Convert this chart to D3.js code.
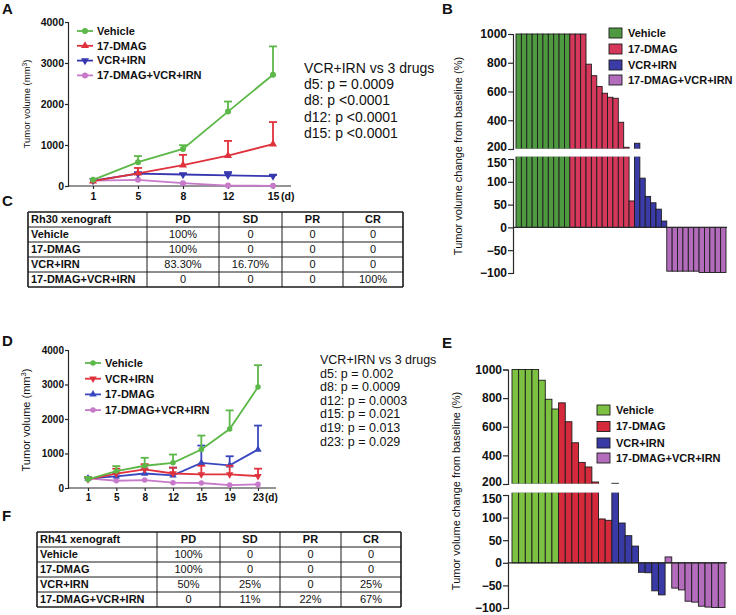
<!DOCTYPE html>
<html><head><meta charset="utf-8">
<script src="https://cdn.jsdelivr.net/npm/d3@7"></script>
<style>body{margin:0;background:#fff}svg{display:block;font-family:"Liberation Sans",Arial,sans-serif}</style>
</head><body><svg id="fig" width="736" height="615"></svg>
<script>
// ---------- DATA ----------
const yTicksLine = [0, 1000, 2000, 3000, 4000];
// Panel A (Rh30)
const daysA = ["1", "5", "8", "12", "15"];
const vehicleA = [150, 580, 905, 1815, 2715];
const vehicleAErr = [160, 730, 995, 2060, 3405];
const dmagA = [120, 310, 510, 740, 1020];
const dmagAErr = [130, 440, 760, 1100, 1560];
const vcrA = [130, 300, 280, 260, 240];
const vcrAErr = [140, 330, 300, 340, 270];
const comboA = [130, 150, 70, 10, 5];
const comboAErr = [140, 160, 80, 15, 10];
const pTextA = ["VCR+IRN vs 3 drugs", "d5: p = 0.0009", "d8: p <0.0001", "d12: p <0.0001", "d15: p <0.0001"];
// Panel D (Rh41)
const daysD = ["1", "5", "8", "12", "15", "19", "23"];
const vehicleD = [250, 490, 645, 730, 1115, 1710, 2925];
const vehicleDErr = [320, 635, 875, 970, 1520, 2250, 3560];
const vcrD = [250, 415, 540, 420, 395, 395, 345];
const vcrDErr = [320, 560, 690, 590, 645, 645, 560];
const dmagD = [280, 335, 420, 365, 730, 655, 1115];
const dmagDErr = [300, 420, 540, 590, 1230, 920, 1810];
const comboD = [280, 210, 230, 155, 145, 85, 105];
const pTextD = ["VCR+IRN vs 3 drugs", "d5: p = 0.002", "d8: p = 0.0009", "d12: p = 0.0003", "d15: p = 0.021", "d19: p = 0.013", "d23: p = 0.029"];
// Panel B waterfall (Rh30)
const wfGroups = ["Vehicle", "17-DMAG", "VCR+IRN", "17-DMAG+VCR+IRN"];
const vehicleB = [1000, 1000, 1000, 1000, 1000, 1000, 1000, 1000, 1000, 1000];
const dmagB = [1000, 1000, 1000, 790, 710, 635, 588, 560, 553, 386, 212, 58];
const vcrB = [240, 108, 68, 54, 40, 14];
const comboB = [-96, -96, -96, -96, -96, -96, -99, -99, -99, -99, -99];
// Panel E waterfall (Rh41)
const vehicleE = [1000, 1000, 1000, 1000, 925, 792, 724];
const dmagE = [767, 635, 488, 351, 319, 214, 97, 94];
const vcrE = [205, 88, 60, 37, -21, -22, -62, -71];
const comboE = [13, -56, -60, -85, -87, -96, -98, -99, -99];
const upTicks = [200, 400, 600, 800, 1000];
const loTicks = [-100, -50, 0, 50, 100, 150];
// Tables
const headerC = ["Rh30 xenograft", "PD", "SD", "PR", "CR"];
const rowsC = [["Vehicle", "100%", "0", "0", "0"], ["17-DMAG", "100%", "0", "0", "0"], ["VCR+IRN", "83.30%", "16.70%", "0", "0"], ["17-DMAG+VCR+IRN", "0", "0", "0", "100%"]];
const headerF = ["Rh41 xenograft", "PD", "SD", "PR", "CR"];
const rowsF = [["Vehicle", "100%", "0", "0", "0"], ["17-DMAG", "100%", "0", "0", "0"], ["VCR+IRN", "50%", "25%", "0", "25%"], ["17-DMAG+VCR+IRN", "0", "11%", "22%", "67%"]];

// ---------- DRAWING ----------
const svg = d3.select("#fig");
const AX = "#2a2a2a";
const fmt = d3.format("d");
function styleAxis(sel, fs) {
  sel.selectAll("path,line").attr("stroke", AX).attr("stroke-width", 1.2);
  sel.selectAll("text").attr("fill", "#111").style("font-size", fs + "px").style("font-weight", "bold").style("font-family", "Liberation Sans, Arial, sans-serif");
}
function marker(g, type, x, y, color, size) {
  const t = (type === "up" || type === "down") ? d3.symbolTriangle : type === "square" ? d3.symbolSquare : d3.symbolCircle;
  g.append("path").attr("d", d3.symbol().type(t).size(size)())
    .attr("transform", `translate(${x},${y})${type === "down" ? " rotate(180)" : ""}`)
    .attr("fill", color);
}
function yLabel(g, x, y, fs, parts) {
  const t = g.append("text").attr("transform", `translate(${x},${y}) rotate(-90)`).attr("text-anchor", "middle")
    .style("font-size", fs + "px").attr("fill", "#111");
  parts.forEach(p => {
    const ts = t.append("tspan").text(p.t);
    if (p.sup) ts.attr("baseline-shift", "super").style("font-size", (fs * 0.7) + "px");
  });
}
function letter(t, x, y) {
  svg.append("text").attr("x", x).attr("y", y).text(t).style("font-size", "15px").style("font-weight", "bold").attr("fill", "#111");
}

function lineChart(o) {
  const g = svg.append("g");
  const x = d3.scalePoint().domain(o.days).range(o.xr);
  const y = d3.scaleLinear().domain([0, 4000]).range(o.yr);
  const ya = g.append("g").attr("transform", `translate(${o.ax},0)`)
    .call(d3.axisLeft(y).tickValues(yTicksLine).tickFormat(fmt).tickSizeOuter(0).tickSize(3).tickPadding(1));
  styleAxis(ya, o.fs);
  const xa = g.append("g").attr("transform", `translate(0,${o.yr[0]})`)
    .call(d3.axisBottom(x).tickSize(3).tickPadding(o.xpad));
  xa.select(".domain").remove();
  styleAxis(xa, o.xfs);
  g.append("line").attr("x1", o.ax).attr("x2", o.xend).attr("y1", o.yr[0]).attr("y2", o.yr[0]).attr("stroke", AX).attr("stroke-width", 1.2);
  g.append("text").attr("x", x(o.days[o.days.length - 1]) + o.dOff).attr("y", o.yr[0] + 3 + o.xpad).attr("dy", "0.71em")
    .text("(d)").style("font-size", o.xfs + "px").style("font-weight", "bold").attr("fill", "#111");
  const line = d3.line().x((d, i) => x(o.days[i])).y(d => y(d));
  o.series.slice().reverse().forEach(s => {
    if (s.err) s.err.forEach((t, i) => {
      if (t > s.values[i] + 15) {
        const cx = x(o.days[i]);
        g.append("line").attr("x1", cx).attr("x2", cx).attr("y1", y(s.values[i])).attr("y2", y(t)).attr("stroke", s.color).attr("stroke-width", 1.8);
        g.append("line").attr("x1", cx - 4).attr("x2", cx + 4).attr("y1", y(t)).attr("y2", y(t)).attr("stroke", s.color).attr("stroke-width", 1.8);
      }
    });
    g.append("path").attr("d", line(s.values)).attr("fill", "none").attr("stroke", s.color).attr("stroke-width", 1.8);
    s.values.forEach((v, i) => marker(g, s.sym, x(o.days[i]), y(v), s.color, o.msize));
  });
  o.series.forEach((s, i) => {
    const ly = o.ly + i * o.lstep;
    g.append("line").attr("x1", o.lx).attr("x2", o.lx + 16).attr("y1", ly).attr("y2", ly).attr("stroke", s.color).attr("stroke-width", 1.8);
    marker(g, s.sym, o.lx + 8, ly, s.color, o.msize);
    g.append("text").attr("x", o.lx + 20).attr("y", ly).attr("dy", "0.35em").text(s.name)
      .style("font-size", o.lfs + "px").style("font-weight", "bold").attr("fill", "#111");
  });
  yLabel(g, o.lblx, o.lbly, o.lblfs, [{ t: "Tumor volume (mm" }, { t: "3", sup: true }, { t: ")" }]);
  o.ptext.forEach((t, i) => {
    g.append("text").attr("x", o.px).attr("y", o.py + i * o.pstep).text(t).style("font-size", o.pfs + "px").attr("fill", "#111");
  });
}

function waterfall(o) {
  const g = svg.append("g");
  const bars = [];
  o.groups.forEach(grp => grp.values.forEach(v => bars.push({ v, c: grp.color })));
  const x = d3.scaleBand().domain(d3.range(bars.length)).range([o.x0, o.x1]).padding(0);
  const yUp = d3.scaleLinear().domain([200, 1000]).range([o.upBot, o.upTop]);
  const yLo = d3.scaleLinear().domain([-100, 150]).range([o.loBot, o.loTop]);
  const breakTop = o.loTop - 3;
  bars.forEach((b, i) => {
    const bx = x(i), bw = x.bandwidth();
    let y1, y2;
    if (b.v >= 0) { y1 = b.v > 150 ? breakTop : yLo(b.v); y2 = yLo(0); }
    else { y1 = yLo(0); y2 = yLo(Math.max(b.v, -100)); }
    g.append("rect").attr("x", bx).attr("y", y1).attr("width", bw).attr("height", y2 - y1)
      .attr("fill", b.c).attr("stroke", "#1c1c1c").attr("stroke-width", 0.9);
    if (b.v > 200) {
      const t = yUp(Math.min(b.v, 1000));
      g.append("rect").attr("x", bx).attr("y", t).attr("width", bw).attr("height", o.upBot - t)
        .attr("fill", b.c).attr("stroke", "#1c1c1c").attr("stroke-width", 0.9);
    }
  });
  g.append("rect").attr("x", o.x0 - 1).attr("y", o.upBot - 0.3).attr("width", o.x1 - o.x0 + 2).attr("height", breakTop - o.upBot + 0.9).attr("fill", "#fff");
  g.append("line").attr("x1", o.ax).attr("x2", o.zx).attr("y1", yLo(0)).attr("y2", yLo(0)).attr("stroke", AX).attr("stroke-width", 1.2);
  const a1 = g.append("g").attr("transform", `translate(${o.ax},0)`).call(d3.axisLeft(yUp).tickValues(upTicks).tickFormat(fmt).tickSizeOuter(0).tickSize(5).tickPadding(1));
  styleAxis(a1, o.fs);
  a1.selectAll(".tick text").filter(d => d === 200).attr("dy", "0.1em");
  const a2 = g.append("g").attr("transform", `translate(${o.ax},0)`).call(d3.axisLeft(yLo).tickValues(loTicks).tickFormat(fmt).tickSizeOuter(0).tickSize(5).tickPadding(1));
  styleAxis(a2, o.fs);
  a2.selectAll(".tick text").filter(d => d === 150).attr("dy", "0.62em");
  o.groups.forEach((grp, i) => {
    const ly = o.ly[i];
    g.append("rect").attr("x", o.lx).attr("y", ly - 5).attr("width", 13).attr("height", 10).attr("fill", grp.color).attr("stroke", "#1c1c1c").attr("stroke-width", 0.9);
    g.append("text").attr("x", o.lx + 19).attr("y", ly).attr("dy", "0.35em").text(grp.name)
      .style("font-size", "11px").style("font-weight", "bold").attr("fill", "#111");
  });
  yLabel(g, o.lblx, o.lbly, o.lblfs, [{ t: "Tumor volume change from baseline (%)" }]);
}

function table(o) {
  const g = svg.append("g");
  const all = [o.header].concat(o.rows);
  const yb = d3.range(all.length + 1).map(i => o.top + i * o.rh);
  all.forEach((row, r) => row.forEach((cell, c) => {
    const bold = r === 0 || c === 0;
    const tx = c === 0 ? o.cols[0] + 3 : (o.cols[c] + o.cols[c + 1]) / 2;
    g.append("text").attr("x", tx).attr("y", (yb[r] + yb[r + 1]) / 2).attr("dy", "0.36em")
      .attr("text-anchor", c === 0 ? "start" : "middle").text(cell)
      .style("font-size", "11px").style("font-weight", bold ? "bold" : "normal").attr("fill", "#111");
  }));
  yb.forEach((y, i) => g.append("line").attr("x1", o.cols[0]).attr("x2", o.cols[o.cols.length - 1]).attr("y1", y).attr("y2", y)
    .attr("stroke", "#1a1a1a").attr("stroke-width", (i === 0 || i === yb.length - 1) ? 1.6 : 1));
  o.cols.forEach((x, i) => g.append("line").attr("x1", x).attr("x2", x).attr("y1", yb[0]).attr("y2", yb[yb.length - 1])
    .attr("stroke", "#1a1a1a").attr("stroke-width", (i === 0 || i === o.cols.length - 1) ? 1.6 : 1));
}

const cG = "#5cb848", cR = "#e0323c", cB = "#3636b0", cP = "#c77ac9";

lineChart({
  days: daysA, xr: [93, 273], yr: [186, 22], ax: 68, xend: 291, fs: 10.5, xfs: 10.5, xpad: 4, dOff: 8, msize: 28,
  series: [
    { name: "Vehicle", values: vehicleA, err: vehicleAErr, color: cG, sym: "circle" },
    { name: "17-DMAG", values: dmagA, err: dmagAErr, color: cR, sym: "up" },
    { name: "VCR+IRN", values: vcrA, err: vcrAErr, color: cB, sym: "down" },
    { name: "17-DMAG+VCR+IRN", values: comboA, err: comboAErr, color: cP, sym: "circle" }
  ],
  lx: 77, ly: 31, lstep: 14.8, lfs: 11, lblx: 30, lbly: 104, lblfs: 9.5,
  ptext: pTextA, px: 304, py: 73, pstep: 16.2, pfs: 14
});

lineChart({
  days: daysD, xr: [88, 258], yr: [488, 350], ax: 68, xend: 276, fs: 10, xfs: 10, xpad: 3, dOff: 7, msize: 24,
  series: [
    { name: "Vehicle", values: vehicleD, err: vehicleDErr, color: cG, sym: "circle" },
    { name: "VCR+IRN", values: vcrD, err: vcrDErr, color: cR, sym: "down" },
    { name: "17-DMAG", values: dmagD, err: dmagDErr, color: "#3a48bf", sym: "up" },
    { name: "17-DMAG+VCR+IRN", values: comboD, err: null, color: cP, sym: "circle" }
  ],
  lx: 85, ly: 363, lstep: 15.7, lfs: 11, lblx: 30, lbly: 420, lblfs: 11,
  ptext: pTextD, px: 320, py: 364, pstep: 13.6, pfs: 12.5
});

waterfall({
  groups: [
    { name: wfGroups[0], values: vehicleB, color: "#4f9a40" },
    { name: wfGroups[1], values: dmagB, color: "#d6385c" },
    { name: wfGroups[2], values: vcrB, color: "#3b3ba8" },
    { name: wfGroups[3], values: comboB, color: "#b36cbb" }
  ],
  x0: 516, x1: 726, ax: 513, zx: 727, upTop: 34, upBot: 149, loTop: 159, loBot: 273, fs: 12,
  lx: 609, ly: [33, 49, 65, 80], lblx: 462, lbly: 156, lblfs: 11
});

waterfall({
  groups: [
    { name: wfGroups[0], values: vehicleE, color: "#7cc142" },
    { name: wfGroups[1], values: dmagE, color: "#d42a3c" },
    { name: wfGroups[2], values: vcrE, color: "#3a3aa6" },
    { name: wfGroups[3], values: comboE, color: "#b46dbd" }
  ],
  x0: 512, x1: 725, ax: 508, zx: 727, upTop: 369.5, upBot: 484, loTop: 495, loBot: 608, fs: 12,
  lx: 597, ly: [410, 426.5, 443, 458], lblx: 460, lbly: 491, lblfs: 11
});

table({ header: headerC, rows: rowsC, cols: [28, 147, 219, 282, 343, 403], top: 212, rh: 15 });
table({ header: headerF, rows: rowsF, cols: [37, 157, 220, 280, 341, 401], top: 532, rh: 15 });

letter("A", 2, 14); letter("B", 442, 14); letter("C", 2, 206);
letter("D", 2, 346); letter("E", 442, 348); letter("F", 2, 521);
</script></body></html>
